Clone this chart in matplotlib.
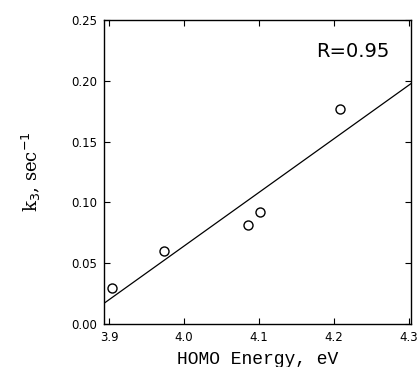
import numpy as np
import matplotlib
matplotlib.use("Agg")
import matplotlib.pyplot as plt

# HOMO energy (eV) vs rate constant k3 (1/sec)
homo_ev = [3.904, 3.973, 4.085, 4.101, 4.208]
k3 = [0.030, 0.060, 0.081, 0.092, 0.177]
x_ticks = [3.9, 4.0, 4.1, 4.2, 4.3]
y_ticks = [0.00, 0.05, 0.10, 0.15, 0.20, 0.25]
r_text = "R=0.95"

fig = plt.figure(figsize=(4.19, 3.67), dpi=100)
ax = fig.add_axes([0.248, 0.117, 0.733, 0.829])

ax.plot(homo_ev, k3, "o", mfc="none", mec="black", ms=6.5, mew=1.0)

# least squares line
slope, icpt = np.polyfit(homo_ev, k3, 1)
xl = np.array([3.885, 4.31])
ax.plot(xl, slope * xl + icpt, color="black", lw=0.9)

ax.set_xlim(3.893, 4.303)
ax.set_ylim(0, 0.25)
ax.set_xticks(x_ticks)
ax.set_yticks(y_ticks)
ax.set_xticklabels([f"{v:.1f}" for v in x_ticks], fontsize=8.5)
ax.set_yticklabels([f"{v:.2f}" for v in y_ticks], fontsize=8.5)
ax.tick_params(direction="in", top=True, right=True, length=4, width=0.8, pad=5)
for s in ax.spines.values():
    s.set_linewidth(1.0)

ax.set_xlabel("HOMO Energy, eV", family="Liberation Mono", fontsize=13, labelpad=5)
ax.set_ylabel(r"k$_3$, sec$^{-1}$", family="DejaVu Serif", fontsize=13, labelpad=20)
ax.text(0.93, 0.895, r_text, transform=ax.transAxes, ha="right", va="center",
        fontsize=14)

fig.savefig("out.png", dpi=100)
